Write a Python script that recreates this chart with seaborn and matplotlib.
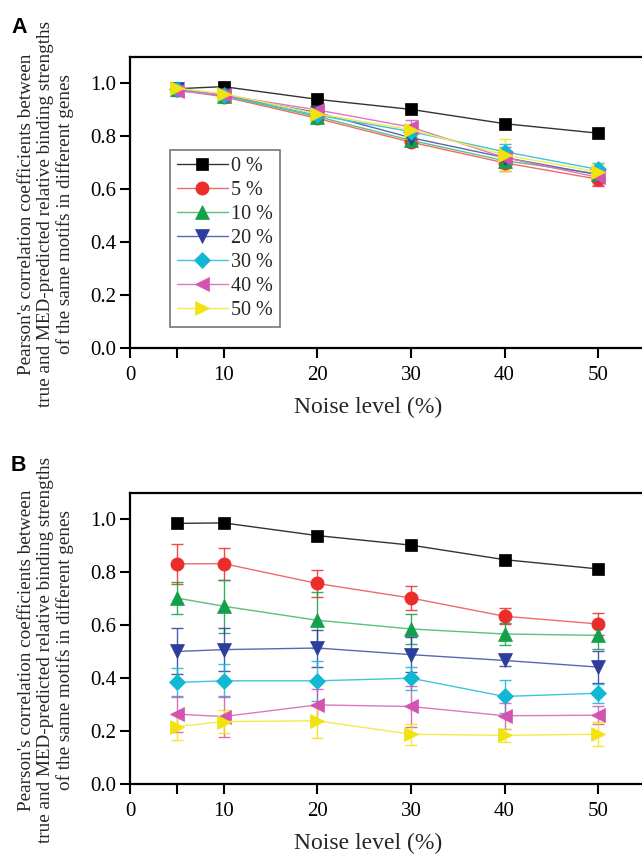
import numpy as np
import pandas as pd
import matplotlib
matplotlib.use("Agg")
import matplotlib.pyplot as plt
from matplotlib.ticker import FixedLocator, FormatStrFormatter
import seaborn as sns

# ---------------- data ----------------
noise = [5, 10, 20, 30, 40, 50]
series = ["0 %", "5 %", "10 %", "20 %", "30 %", "40 %", "50 %"]

a_0 = [0.980, 0.988, 0.940, 0.902, 0.848, 0.812]
a_5 = [0.975, 0.950, 0.868, 0.778, 0.700, 0.638]
a_10 = [0.978, 0.953, 0.875, 0.785, 0.708, 0.658]
a_20 = [0.978, 0.955, 0.890, 0.795, 0.720, 0.655]
a_30 = [0.980, 0.955, 0.880, 0.818, 0.742, 0.675]
a_40 = [0.972, 0.956, 0.900, 0.835, 0.720, 0.645]
a_50 = [0.982, 0.962, 0.885, 0.825, 0.730, 0.665]

a_err_0 = [0.0, 0.0, 0.0, 0.0, 0.0, 0.0]
a_err_5 = [0.012, 0.012, 0.015, 0.015, 0.030, 0.025]
a_err_10 = [0.010, 0.010, 0.012, 0.020, 0.025, 0.025]
a_err_20 = [0.010, 0.010, 0.015, 0.020, 0.025, 0.020]
a_err_30 = [0.012, 0.012, 0.015, 0.020, 0.030, 0.025]
a_err_40 = [0.020, 0.012, 0.015, 0.025, 0.040, 0.030]
a_err_50 = [0.015, 0.012, 0.015, 0.020, 0.060, 0.030]

b_0 = [0.985, 0.987, 0.939, 0.903, 0.848, 0.813]
b_5 = [0.832, 0.833, 0.758, 0.703, 0.634, 0.605]
b_10 = [0.703, 0.672, 0.619, 0.586, 0.567, 0.562]
b_20 = [0.501, 0.508, 0.514, 0.489, 0.467, 0.442]
b_30 = [0.384, 0.390, 0.390, 0.400, 0.331, 0.343]
b_40 = [0.264, 0.255, 0.299, 0.293, 0.258, 0.260]
b_50 = [0.217, 0.236, 0.239, 0.188, 0.184, 0.188]

b_err_0 = [0.0, 0.0, 0.0, 0.0, 0.0, 0.0]
b_err_5 = [0.075, 0.060, 0.050, 0.047, 0.030, 0.040]
b_err_10 = [0.062, 0.100, 0.105, 0.057, 0.040, 0.050]
b_err_20 = [0.087, 0.080, 0.070, 0.065, 0.020, 0.060]
b_err_30 = [0.055, 0.062, 0.076, 0.044, 0.063, 0.035]
b_err_40 = [0.067, 0.076, 0.060, 0.076, 0.050, 0.035]
b_err_50 = [0.050, 0.045, 0.065, 0.040, 0.025, 0.045]

xticks = [0, 10, 20, 30, 40, 50]
yticks = [0.0, 0.2, 0.4, 0.6, 0.8, 1.0]

colors = ["#000000", "#ec2b2b", "#12a04a", "#2c3d9c", "#12b7d4", "#d354b0", "#f2e30f"]
line_colors = ["#333333", "#f06a6a", "#5cc07c", "#5a66b4", "#40c4dc", "#dc78c0", "#f4ea50"]
markers = ["s", "o", "^", "v", "D", "<", ">"]
msizes = [8.5, 9.5, 9.5, 9.5, 8, 9.5, 9.5]

panel_a = [a_0, a_5, a_10, a_20, a_30, a_40, a_50]
panel_a_err = [a_err_0, a_err_5, a_err_10, a_err_20, a_err_30, a_err_40, a_err_50]
panel_b = [b_0, b_5, b_10, b_20, b_30, b_40, b_50]
panel_b_err = [b_err_0, b_err_5, b_err_10, b_err_20, b_err_30, b_err_40, b_err_50]

ylabel = ("Pearson's correlation coefficients between\n"
          "true and MED-predicted relative binding strengths\n"
          "of the same motifs in different genes")

# ---------------- style ----------------
sns.set_style("white")
plt.rcParams["font.family"] = ["Liberation Serif", "DejaVu Serif"]
plt.rcParams["mathtext.fontset"] = "stix"

W, H = 642, 856
fig = plt.figure(figsize=(W / 100, H / 100), dpi=100)

def make_axes(top_px, bottom_px):
    left_px, right_px = 130, 645
    return fig.add_axes([left_px / W, 1 - bottom_px / H,
                         (right_px - left_px) / W, (bottom_px - top_px) / H])

axA = make_axes(57, 348)
axB = make_axes(493, 784)

def draw(ax, vals, errs, legend):
    rows = []
    for s, v in zip(series, vals):
        for x, y in zip(noise, v):
            rows.append({"noise": x, "value": y, "series": s})
    df = pd.DataFrame(rows)
    # error bars
    for i, (v, e) in enumerate(zip(vals, errs)):
        if max(e) > 0:
            ax.errorbar(noise, v, yerr=e, fmt="none", ecolor=colors[i],
                        elinewidth=1.0, capsize=4, capthick=1.0, zorder=2, alpha=0.85)
    for i, s in enumerate(series):
        sub = df[df["series"] == s]
        sns.lineplot(data=sub, x="noise", y="value", ax=ax, color=line_colors[i],
                     linewidth=1.0, marker=markers[i], markersize=msizes[i],
                     markerfacecolor=colors[i], markeredgecolor=colors[i],
                     markeredgewidth=0.5, label=s, zorder=3, legend=legend)
    ax.set_xlim(0, 55)
    ax.set_ylim(0, 1.1)
    ax.xaxis.set_major_locator(FixedLocator(xticks))
    ax.xaxis.set_minor_locator(FixedLocator([5]))
    ax.yaxis.set_major_locator(FixedLocator(yticks))
    ax.yaxis.set_major_formatter(FormatStrFormatter("%.1f"))
    ax.tick_params(axis="both", which="both", direction="out", length=7, width=1.5,
                   labelsize=15, colors="black")
    ax.tick_params(axis="x", which="both", bottom=True, top=False, pad=6)
    ax.tick_params(axis="y", which="both", left=True, right=False, pad=3)
    for sp in ax.spines.values():
        sp.set_visible(True)
        sp.set_linewidth(1.6)
        sp.set_color("black")
    ax.set_xlabel("Noise level (%)", fontsize=17)
    ax.xaxis.set_label_coords((368 - 130) / 515, -(407 - 348) / 291)
    ax.xaxis.label.set_va("center")
    ax.set_ylabel(ylabel, fontsize=13.8, linespacing=1.14)
    ax.yaxis.set_label_coords(-(130 - 46) / 515, (348 - 214) / 291)
    ax.yaxis.label.set_va("center")
    ax.grid(False)
    if legend:
        leg = ax.legend(loc="upper left", bbox_to_anchor=(0.078, 0.68), borderaxespad=0,
                        fontsize=14.5, frameon=True, fancybox=False, handlelength=2.5,
                        handletextpad=0.15, labelspacing=0.24, borderpad=0.35)
        leg.get_frame().set_edgecolor("#555555")
        leg.get_frame().set_linewidth(1.2)
    else:
        if ax.get_legend() is not None:
            ax.get_legend().remove()

draw(axA, panel_a, panel_a_err, True)
draw(axB, panel_b, panel_b_err, False)

fig.text(11 / W, 1 - 17 / H, "A", fontsize=15.5, fontweight="bold", color="black",
         family=["Liberation Sans", "DejaVu Sans"], va="top", ha="left")
fig.text(11 / W, 1 - 455 / H, "B", fontsize=15.5, fontweight="bold", color="black",
         family=["Liberation Sans", "DejaVu Sans"], va="top", ha="left")

fig.savefig("out.png", dpi=100)
